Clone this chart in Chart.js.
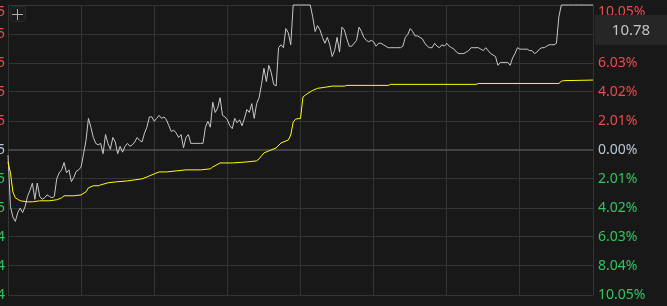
<!DOCTYPE html>
<html>
<head>
<meta charset="utf-8">
<script src="https://cdn.jsdelivr.net/npm/chart.js@4/dist/chart.umd.min.js"></script>
<style>
  html, body { margin: 0; padding: 0; background: #181818; overflow: hidden; }
  #Chart { display: block; }
</style>
</head>
<body>
<canvas id="Chart" width="667" height="306"></canvas>
<script>
// previous close and the percent levels of the axis (bottom -> top)
const prevClose = 9.795;
const limitPrice = 10.78;
const pctTicks = [-10.05, -8.04, -6.03, -4.02, -2.01, 0, 2.01, 4.02, 6.03, 8.04, 10.05];
// left price labels are cut off by the window, only the last digit shows
const leftTickText = ['4', '4', '4', '5', '5', '5', '5', '5', '5', '5', '5'];
const lastPrice = '10.78';

// minute price, 9:30 .. 15:00 (241 points)
const prices = [
  9.76, 9.41, 9.34, 9.31, 9.37, 9.40, 9.37, 9.41, 9.48, 9.52,
  9.57, 9.46, 9.57, 9.48, 9.46, 9.47, 9.49, 9.48, 9.47, 9.48,
  9.60, 9.64, 9.66, 9.71, 9.64, 9.66, 9.58, 9.61, 9.65, 9.66,
  9.68, 9.77, 9.86, 10.01, 9.95, 9.88, 9.84, 9.83, 9.84, 9.77,
  9.90, 9.84, 9.80, 9.88, 9.85, 9.77, 9.82, 9.78, 9.82, 9.84,
  9.82, 9.83, 9.85, 9.88, 9.86, 9.85, 9.91, 9.95, 10.02, 10.02,
  9.99, 10.01, 10.03, 10.01, 10.02, 10.00, 9.96, 9.92, 9.93, 9.91,
  9.88, 9.90, 9.81, 9.88, 9.90, 9.84, 9.84, 9.84, 9.84, 9.84,
  9.84, 9.95, 9.99, 9.95, 10.12, 10.05, 10.08, 10.15, 10.03, 10.02,
  10.00, 9.96, 9.94, 10.01, 9.98, 10.00, 9.96, 10.01, 10.07, 10.05,
  10.11, 10.01, 10.11, 10.15, 10.24, 10.35, 10.26, 10.37, 10.32, 10.24,
  10.23, 10.49, 10.51, 10.49, 10.62, 10.59, 10.51, 10.78, 10.78, 10.78,
  10.78, 10.78, 10.78, 10.78, 10.78, 10.70, 10.60, 10.64, 10.61, 10.56,
  10.52, 10.56, 10.51, 10.43, 10.47, 10.56, 10.46, 10.63, 10.61, 10.55,
  10.50, 10.50, 10.52, 10.54, 10.63, 10.60, 10.56, 10.54, 10.53, 10.54,
  10.53, 10.50, 10.52, 10.52, 10.51, 10.50, 10.49, 10.49, 10.49, 10.49,
  10.49, 10.49, 10.50, 10.56, 10.58, 10.62, 10.60, 10.57, 10.57, 10.56,
  10.55, 10.52, 10.50, 10.49, 10.49, 10.52, 10.50, 10.49, 10.51, 10.50,
  10.52, 10.50, 10.49, 10.48, 10.46, 10.45, 10.45, 10.45, 10.46, 10.47,
  10.49, 10.49, 10.49, 10.49, 10.48, 10.47, 10.49, 10.47, 10.45, 10.44,
  10.43, 10.37, 10.39, 10.39, 10.39, 10.39, 10.37, 10.42, 10.45, 10.49,
  10.48, 10.48, 10.48, 10.48, 10.47, 10.47, 10.45, 10.46, 10.48, 10.49,
  10.49, 10.50, 10.51, 10.51, 10.51, 10.52, 10.70, 10.78, 10.78, 10.78,
  10.78, 10.78, 10.78, 10.78, 10.78, 10.78, 10.78, 10.78, 10.78, 10.78,
  10.78
];

// average price line, read at the minutes where it changes
const avgMinutes = [0, 1, 2, 3, 4, 5, 8, 10, 13, 17, 20, 22, 23, 27, 30, 32, 33, 35, 37, 38,
  41, 44, 49, 52, 55, 57, 60, 62, 65, 69, 73, 79, 83, 84, 87, 92, 98, 102, 103, 105,
  107, 110, 112, 115, 116, 117, 118, 120, 121, 122, 123, 125, 127, 130, 133, 138, 139, 156, 157, 192,
  193, 226, 227, 228, 240];
const avgPrices = [9.714, 9.64, 9.51, 9.47, 9.46, 9.450, 9.443, 9.443, 9.450, 9.450, 9.457, 9.470, 9.484, 9.484, 9.490, 9.511, 9.538, 9.552, 9.552, 9.558,
  9.572, 9.578, 9.585, 9.592, 9.599, 9.612, 9.633, 9.646, 9.646, 9.653, 9.660, 9.660, 9.667, 9.680, 9.707, 9.707, 9.714, 9.721, 9.735, 9.775,
  9.789, 9.809, 9.843, 9.863, 9.897, 9.985, 10.005, 10.010, 10.155, 10.168, 10.180, 10.200, 10.214, 10.221, 10.229, 10.229, 10.234, 10.234, 10.241, 10.241,
  10.247, 10.247, 10.262, 10.266, 10.270];

const halfRange = limitPrice - prevClose;
const gridColor = '#343434';

function pctColor(v) {
  if (Math.abs(v) < 0.001) return '#b8c8d8';
  return v > 0 ? '#ee4a4a' : '#2fc65c';
}

const overlay = {
  id: 'overlay',
  afterDraw(chart) {
    const ctx = chart.ctx;
    ctx.save();
    // last price box on the right axis
    ctx.fillStyle = '#262626';
    ctx.fillRect(595, 15, 72, 30);
    ctx.fillStyle = '#c4c4c4';
    ctx.font = '15px "Noto Sans"';
    ctx.textAlign = 'center';
    ctx.textBaseline = 'middle';
    ctx.fillText(lastPrice, 631, 31);
    // small "+" button, top left
    ctx.strokeStyle = '#2c2c2c';
    ctx.fillStyle = '#1c1c1c';
    ctx.lineWidth = 1;
    ctx.beginPath();
    ctx.roundRect(10.5, 6.5, 15, 15, 3);
    ctx.fill();
    ctx.stroke();
    ctx.strokeStyle = '#b0b0b0';
    ctx.beginPath();
    ctx.moveTo(12, 14.5); ctx.lineTo(23, 14.5);
    ctx.moveTo(17.5, 9); ctx.lineTo(17.5, 20);
    ctx.stroke();
    ctx.restore();
  }
};

const ctx = document.getElementById('Chart').getContext('2d');
const myChart = new Chart(ctx, {
  type: 'line',
  data: {
    datasets: [{
      label: 'price',
      data: prices.map((p, i) => ({ x: i, y: p })),
      borderColor: '#c8c8c8',
      borderWidth: 1,
      pointRadius: 0,
      tension: 0,
      clip: false,
      order: 1
    }, {
      label: 'average',
      data: avgMinutes.map((m, i) => ({ x: m, y: avgPrices[i] })),
      borderColor: '#ffff00',
      borderWidth: 1,
      pointRadius: 0,
      tension: 0,
      clip: false,
      order: 0
    }]
  },
  options: {
    responsive: false,
    animation: false,
    devicePixelRatio: 1,
    layout: { padding: { top: 5, bottom: 11, left: 0, right: 0 } },
    plugins: { legend: { display: false }, tooltip: { enabled: false } },
    scales: {
      x: {
        type: 'linear',
        min: 0,
        max: 240,
        ticks: { display: false, stepSize: 30, autoSkip: false },
        grid: { color: gridColor, drawTicks: false },
        border: { display: false },
        afterFit(scale) { scale.height = 0; }
      },
      y: {
        position: 'left',
        min: prevClose - halfRange,
        max: limitPrice,
        afterBuildTicks(scale) {
          scale.ticks = pctTicks.map(p => ({ value: prevClose + halfRange * p / 10.05 }));
        },
        ticks: {
          autoSkip: false,
          padding: 3,
          font: { family: 'Noto Sans', size: 14, lineHeight: 1 },
          color: c => pctColor(pctTicks[c.index]),
          callback: (v, i) => i === 10 ? ['', leftTickText[i]] : leftTickText[i]
        },
        grid: {
          drawTicks: false,
          color: c => c.index === 5 ? '#444444' : gridColor,
          lineWidth: c => c.index === 5 ? 2 : 1
        },
        border: { display: false },
        afterFit(scale) {
          scale.width = 8;
          scale.paddingTop = 0;
          scale.paddingBottom = 0;
        }
      },
      yPct: {
        position: 'right',
        min: -10.05,
        max: 10.05,
        afterBuildTicks(scale) {
          scale.ticks = pctTicks.map(p => ({ value: p }));
        },
        ticks: {
          autoSkip: false,
          padding: 5,
          font: { family: 'Noto Sans', size: 14, lineHeight: 1 },
          color: c => pctColor(pctTicks[c.index]),
          callback: (v, i) => {
            const s = Math.abs(pctTicks[i]).toFixed(2) + '%';
            return i === 10 ? ['', s] : s;
          }
        },
        grid: { display: false, drawTicks: false },
        border: { display: false },
        afterFit(scale) {
          scale.width = 74;
          scale.paddingTop = 0;
          scale.paddingBottom = 0;
        }
      }
    }
  },
  plugins: [overlay]
});
console.log(prices.length, myChart.chartArea);
</script>
</body>
</html>
